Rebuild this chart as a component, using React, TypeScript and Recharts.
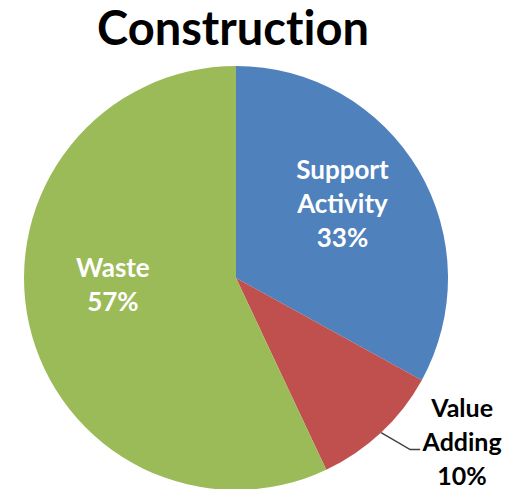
import { PieChart, Pie, Cell } from "recharts";

const categories = ["Support Activity", "Value Adding", "Waste"];
const shares = [33, 10, 57];
const labelLines = [["Support", "Activity"], ["Value", "Adding"], ["Waste"]];
const colors = ["#4F81BD", "#C0504D", "#9BBB59"];

const data = categories.map((name, i) => ({ name, value: shares[i] }));

const RADIAN = Math.PI / 180;
const FONT = "Lato, 'Open Sans', sans-serif";
const LINE_H = 34;
const LABEL_SIZE = 26;

// small nudges so the inside labels sit where Excel put them
const insideNudge = [
  { dx: -3, dy: -9 },
  { dx: 0, dy: 0 },
  { dx: 1, dy: -21 },
];

function renderLabel(props: any) {
  const { cx, cy, midAngle, outerRadius, index } = props;
  const lines = [...labelLines[index], `${shares[index]}%`];
  const cos = Math.cos(-midAngle * RADIAN);
  const sin = Math.sin(-midAngle * RADIAN);

  if (index === 1) {
    // outside label with leader line
    const sx = cx + outerRadius * cos;
    const sy = cy + outerRadius * sin;
    const ex = sx + 29;
    const ey = sy + 17;
    const tx = ex + 52;
    return (
      <g>
        <polyline
          points={`${sx},${sy} ${ex},${ey} ${ex + 10},${ey}`}
          fill="none"
          stroke="#404040"
          strokeWidth={1.5}
        />
        <text
          x={tx}
          y={ey + 1 - LINE_H}
          textAnchor="middle"
          fill="#000"
          fontFamily={FONT}
          fontWeight={700}
          fontSize={LABEL_SIZE - 1}
        >
          {lines.map((l, i) => (
            <tspan key={i} x={tx} dy={i === 0 ? 0 : LINE_H}>
              {l}
            </tspan>
          ))}
        </text>
      </g>
    );
  }

  const r = outerRadius * 0.6;
  const x = cx + r * cos + insideNudge[index].dx;
  const y = cy + r * sin + insideNudge[index].dy;
  const firstBaseline = y + 9 - ((lines.length - 1) * LINE_H) / 2;
  return (
    <text
      x={x}
      y={firstBaseline}
      textAnchor="middle"
      fill="#fff"
      fontFamily={FONT}
      fontWeight={700}
      fontSize={LABEL_SIZE}
    >
      {lines.map((l, i) => (
        <tspan key={i} x={x} dy={i === 0 ? 0 : LINE_H}>
          {l}
        </tspan>
      ))}
    </text>
  );
}

export default function App() {
  return (
    <div
      style={{
        position: "absolute",
        left: 0,
        top: 0,
        width: 506,
        height: 489,
        background: "#fff",
        overflow: "hidden",
      }}
    >
      <div
        style={{
          position: "absolute",
          left: 0,
          top: 0,
          width: 466,
          textAlign: "center",
          fontFamily: FONT,
          fontWeight: 700,
          fontSize: 47,
          lineHeight: "54px",
          fontVariantLigatures: "none",
          color: "#000",
          zIndex: 2,
        }}
      >
        Construction
      </div>
      <PieChart
        width={506}
        height={489}
        margin={{ top: 0, right: 0, bottom: 0, left: 0 }}
      >
        <Pie
          data={data}
          dataKey="value"
          nameKey="name"
          cx={236}
          cy={278}
          outerRadius={212}
          startAngle={90}
          endAngle={-270}
          stroke="none"
          label={renderLabel}
          labelLine={false}
          isAnimationActive={false}
        >
          {data.map((entry, index) => (
            <Cell key={`cell-${index}`} fill={colors[index]} />
          ))}
        </Pie>
      </PieChart>
    </div>
  );
}
